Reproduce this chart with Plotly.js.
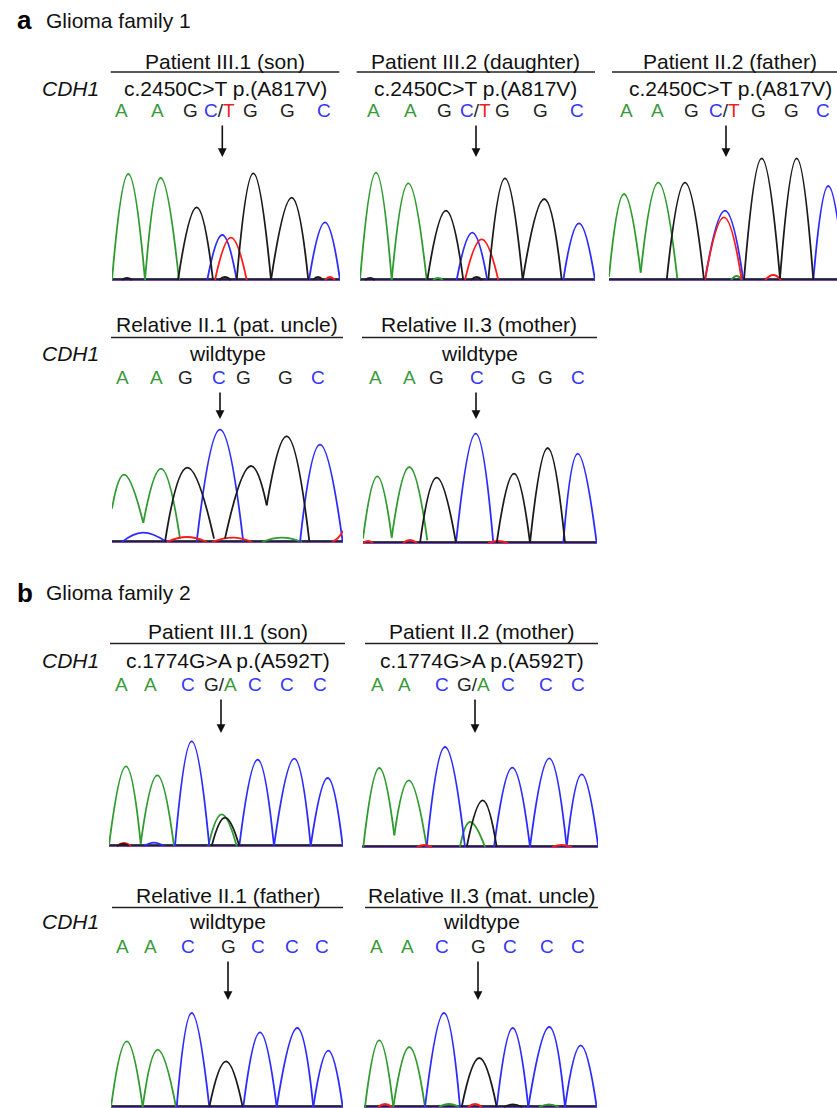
<!DOCTYPE html>
<html><head><meta charset="utf-8">
<script src="https://cdn.plot.ly/plotly-3.0.1.min.js"></script>
<style>html,body{margin:0;padding:0;background:#fff}</style>
</head><body><div id="chart" style="width:837px;height:1108px"></div>
<script>
// ---------- DATA: chromatogram peaks per channel [startX, startY, topX, topY, endX, endY] ----------
// x = scan position within the panel, y = signal intensity
// Family 1
const f1_son_A = [[0,0,16.3,106,33,0],[33,0,48.7,102,67,0]];
const f1_son_C = [[95.3,0,110.3,45,124.7,0],[197,0,213,57.7,228,0]];
const f1_son_G = [[10,0,15,2,20,0],[66,0,84.7,72.7,101,0],[107,0,113,3,119,0],[124.7,0,141.3,106.7,159,0],[159,0,179.7,82.3,196.3,0],[201,0,206,3,211,0]];
const f1_son_T = [[103,0,119,42.3,134.7,0],[213,0,218,3,223,0]];

const f1_daughter_A = [[0,0,16,107.3,31.7,0],[31.7,0,48.3,96.7,66.7,0],[73,0,78,2,83,0]];
const f1_daughter_C = [[96.7,0,112.3,47.3,127.3,0],[203.3,0,219,56.7,235,0]];
const f1_daughter_G = [[5,0,10,2,15,0],[67.3,0,86,69.3,103.3,0],[111,0,116.7,3,122,0],[128.3,0,145,101.7,162.7,0],[162.7,0,184.3,81,201.7,0]];
const f1_daughter_T = [[105,0,121.7,40.7,138.3,0]];

const f1_father_A = [[0,3.3,15,86,31.7,7.3],[31.7,7.3,49.3,97.3,68.3,1.7],[122,0,127.7,4,133,0]];
const f1_father_C = [[96,0,116,69.3,134.3,0],[204.3,0,219.3,94,236,0]];
const f1_father_G = [[57.7,0,76,97.3,95,0],[135,0,152.7,121.7,171,1.7],[171,1.7,187.7,121.7,204.3,0]];
const f1_father_T = [[96,0,115,62.7,132.7,0],[156,0,164.3,5,172,0]];

const f1_uncle_A = [[0,33.4,12,67.4,31.3,19],[31.3,19,49,73.4,68,3.4],[150,0,170,4.4,190,0]];
const f1_uncle_C = [[10,0,30.7,9.4,54.7,0],[84.7,0,108,112.4,131.3,0],[188,0,208,97.4,230.7,0]];
const f1_uncle_G = [[53,0,75.3,74.4,102,3.4],[113,3.4,139,76,154.7,36.7],[154.7,36.7,174.7,105.7,197.3,1]];
const f1_uncle_T = [[55,0,74.7,5,95,0],[100,0,121.3,4.4,140,0],[220,0,226,4,231,11]];

const f1_mother_A = [[0,4.4,14.3,66.7,28.7,5.4],[28.7,5.4,46.3,76,64.3,2.7]];
const f1_mother_C = [[93,0,112.7,109.4,130.3,0],[200.3,0,214.7,89.4,233.7,0]];
const f1_mother_G = [[57,0,73.7,65.4,93,0],[133.7,0,151,69.4,167,0],[167,0,184.7,95,202,0]];
const f1_mother_T = [[0,0,5,2,10,0],[40,0,47,3,54,0],[125,0,135,2,145,0]];

// Family 2
const f2_son_A = [[0,0.7,17,79.7,31.7,2.4],[31.7,2.4,48.3,70.7,65,0],[99.3,0,112.7,31.7,127.7,0]];
const f2_son_C = [[35,0,45,3.4,55,0],[66,0,82.7,104.7,100.3,0],[130.3,0,148.7,86.4,165,0],[165,0,185.3,87.4,201.7,0],[201.7,0,218.7,68,233.7,0]];
const f2_son_G = [[8,0,14,2,20,0],[102.7,0,116,28.4,130.3,0]];
const f2_son_T = [[8,0,15,3,22,0]];

const f2_mother_A = [[1.3,0,17.3,79,32.3,11.7],[32.3,11.7,46.7,66.7,64.7,0],[98,0,108,25,123,0]];
const f2_mother_C = [[64.7,0,83,100,103,0],[132,0,150.3,79.4,168,0],[168,0,187.3,88.7,204.7,0],[204.7,0,219.7,72.7,236.3,0]];
const f2_mother_G = [[104.7,0,120.7,46.7,134.7,0]];
const f2_mother_T = [[55,0,62,2,70,0],[190,0,200,2,210,0]];

const f2_father_A = [[0,0,15.7,65.7,31.7,0],[31.7,0,46.7,57.3,65,0]];
const f2_father_C = [[65.7,0,80.7,94,98.3,0],[132.3,0,149,74.7,165.7,0],[165.7,0,186.3,79,202.3,0],[202.3,0,217.3,56.3,231.7,0]];
const f2_father_G = [[98.3,0,115,45.7,131.7,0]];
const f2_father_T = [];

const f2_uncle_A = [[1,0,15.3,66.7,29.3,0],[29.3,0,45.3,60,61,0],[75,0,85,3,95,0],[175,0,185,2.5,195,0]];
const f2_uncle_C = [[61,0,80,94,96,0],[132.7,0,148.7,79,164.3,0],[164.3,0,185.3,80,201,0],[201,0,216.7,61.7,232.7,0]];
const f2_uncle_G = [[97.7,0,115.3,49,132.7,0],[140,0,149,2.5,158,0]];
const f2_uncle_T = [[14,0,21,3,28,0],[104,0,111,3,118,0]];

// ---------- base calls (letters) and their scan positions ----------
const f1_son_bases = ['A','A','G','C/T','G','G','C'];
const f1_son_basePos = [9,45,78,107,138,175,212];
const f1_daughter_bases = ['A','A','G','C/T','G','G','C'];
const f1_daughter_basePos = [13,50,84,115,142,180,217];
const f1_father_bases = ['A','A','G','C/T','G','G','C'];
const f1_father_basePos = [17,48,82,115,149,182,214];
const f1_uncle_bases = ['A','A','G','C','G','G','C'];
const f1_uncle_basePos = [10,44,73,107,131,173,206];
const f1_mother_bases = ['A','A','G','C','G','G','C'];
const f1_mother_basePos = [12,46,73,114,155,182,215];
const f2_son_bases = ['A','A','C','G/A','C','C','C'];
const f2_son_basePos = [13,41,79,111,146,178,211];
const f2_mother_bases = ['A','A','C','G/A','C','C','C'];
const f2_mother_basePos = [15,42,80,111,146,184,216];
const f2_father_bases = ['A','A','C','G','C','C','C'];
const f2_father_basePos = [11,39,77,117,147,181,211];
const f2_uncle_bases = ['A','A','C','G','C','C','C'];
const f2_uncle_basePos = [12,43,78,114,146,183,214];

// variant position (scan position of the arrowed base)
const f1_son_variantPos = 110.3, f1_daughter_variantPos = 116, f1_father_variantPos = 117;
const f1_uncle_variantPos = 108, f1_mother_variantPos = 113;
const f2_son_variantPos = 112, f2_mother_variantPos = 113, f2_father_variantPos = 117, f2_uncle_variantPos = 114;

// ---------- text ----------
const familyLabels = ['a','b'];
const familyNames = ['Glioma family 1','Glioma family 2'];
const geneName = 'CDH1';
const sampleNames = ['Patient III.1 (son)','Patient III.2 (daughter)','Patient II.2 (father)',
  'Relative II.1 (pat. uncle)','Relative II.3 (mother)',
  'Patient III.1 (son)','Patient II.2 (mother)','Relative II.1 (father)','Relative II.3 (mat. uncle)'];
const sampleVariants = ['c.2450C>T p.(A817V)','c.2450C>T p.(A817V)','c.2450C>T p.(A817V)',
  'wildtype','wildtype','c.1774G>A p.(A592T)','c.1774G>A p.(A592T)','wildtype','wildtype'];

// ---------- assemble ----------
const W = 837, H = 1108;
const COL = {A:'#2f9a2f', C:'#2b2bff', G:'#1a1a1a', T:'#ff1a1a'};
const TXT = {A:'#3a9a3a', C:'#3535f5', G:'#222222', T:'#f01e1e'};
const FONT = 'Liberation Sans, Arial, Helvetica, sans-serif';

const panelData = [
  [f1_son_A,f1_son_C,f1_son_G,f1_son_T,f1_son_bases,f1_son_basePos,f1_son_variantPos],
  [f1_daughter_A,f1_daughter_C,f1_daughter_G,f1_daughter_T,f1_daughter_bases,f1_daughter_basePos,f1_daughter_variantPos],
  [f1_father_A,f1_father_C,f1_father_G,f1_father_T,f1_father_bases,f1_father_basePos,f1_father_variantPos],
  [f1_uncle_A,f1_uncle_C,f1_uncle_G,f1_uncle_T,f1_uncle_bases,f1_uncle_basePos,f1_uncle_variantPos],
  [f1_mother_A,f1_mother_C,f1_mother_G,f1_mother_T,f1_mother_bases,f1_mother_basePos,f1_mother_variantPos],
  [f2_son_A,f2_son_C,f2_son_G,f2_son_T,f2_son_bases,f2_son_basePos,f2_son_variantPos],
  [f2_mother_A,f2_mother_C,f2_mother_G,f2_mother_T,f2_mother_bases,f2_mother_basePos,f2_mother_variantPos],
  [f2_father_A,f2_father_C,f2_father_G,f2_father_T,f2_father_bases,f2_father_basePos,f2_father_variantPos],
  [f2_uncle_A,f2_uncle_C,f2_uncle_G,f2_uncle_T,f2_uncle_bases,f2_uncle_basePos,f2_uncle_variantPos]
];

// layout geometry in pixels
const rows = [
  {header:61, line:72, variant:88.5, bases:111, arrowTop:124, arrowTip:157},
  {header:325, line:337.5, variant:353, bases:378, arrowTop:391, arrowTip:419},
  {header:631, line:643.5, variant:660, bases:684, arrowTop:698, arrowTip:733},
  {header:895, line:907.5, variant:922, bases:946, arrowTop:960, arrowTip:1000}
];
const geom = [
  {row:0, L:112, R:340, B:280, l0:110.7, l1:339.3},
  {row:0, L:360, R:595, B:280, l0:356.7, l1:595},
  {row:0, L:609, R:837, B:280, l0:612, l1:848},
  {row:1, L:112, R:343, B:542, l0:111, l1:343},
  {row:1, L:363, R:597, B:543, l0:362, l1:597},
  {row:2, L:109, R:343, B:846, l0:110, l1:345},
  {row:2, L:362, R:598, B:847, l0:365, l1:598},
  {row:3, L:111, R:343, B:1107, l0:112, l1:343},
  {row:3, L:364, R:597, B:1107, l0:365, l1:598}
];

const px = v => v / W;
const py = v => 1 - v / H;

function peakXY(peaks){
  const x = [], y = [];
  peaks.forEach((p, i) => {
    if (i) { x.push(null); y.push(null); }
    x.push(p[0], p[2], p[4]); y.push(p[1], p[3], p[5]);
  });
  return {x, y};
}

const traces = [];
const layout = {
  width: W, height: H, margin: {l:0, r:0, t:0, b:0},
  paper_bgcolor: '#fff', plot_bgcolor: 'rgba(0,0,0,0)',
  showlegend: false, annotations: [], shapes: [],
  font: {family: FONT, color: '#111'}
};

const baseOffsets = {T:0, A:0.6, C:0.3, G:1.0};

panelData.forEach((pd, k) => {
  const g = geom[k], r = rows[g.row];
  const n = k + 1, sx = n === 1 ? '' : String(n);
  const xa = 'x' + sx, ya = 'y' + sx;
  const right = Math.min(g.R, W);
  const bottomPx = Math.min(g.B + 3, H);
  layout['xaxis' + sx] = {domain:[px(g.L), px(right)], range:[0, right - g.L], visible:false, fixedrange:true};
  layout['yaxis' + sx] = {domain:[py(bottomPx), py(g.B - 130)], range:[-(bottomPx - g.B), 130], visible:false, fixedrange:true};
  const ch = {A: pd[0], C: pd[1], G: pd[2], T: pd[3]};
  ['T','A','C','G'].forEach(c => {
    traces.push({type:'scatter', mode:'lines', x:[0, g.R - g.L + 10], y:[baseOffsets[c], baseOffsets[c]],
      xaxis:xa, yaxis:ya, line:{color:COL[c], width:1.6}, hoverinfo:'skip'});
  });
  ['A','C','T','G'].forEach(c => {
    const d = peakXY(ch[c]);
    traces.push({type:'scatter', mode:'lines', x:d.x, y:d.y, xaxis:xa, yaxis:ya, connectgaps:false,
      line:{color:COL[c], width:1.8, shape:'spline', smoothing:1.3}, hoverinfo:'skip'});
  });
  layout.annotations.push({xref:'paper', yref:'paper', x:px((g.l0 + Math.min(g.l1, 848)) / 2), y:py(r.header),
    text:sampleNames[k], showarrow:false, xanchor:'center', yanchor:'middle', font:{size:21, family:FONT, color:'#111'}});
  layout.shapes.push({type:'line', xref:'paper', yref:'paper', x0:px(g.l0), x1:px(Math.min(g.l1, W)), y0:py(r.line), y1:py(r.line),
    line:{color:'#222', width:1.3}});
  layout.annotations.push({xref:'paper', yref:'paper', x:px((g.l0 + g.l1) / 2), y:py(r.variant),
    text:sampleVariants[k], showarrow:false, xanchor:'center', yanchor:'middle', font:{size:21, family:FONT, color:'#111'}});
  pd[4].forEach((b, i) => {
    let txt;
    if (b.length > 1) {
      const parts = b.split('/');
      txt = '<span style="color:' + TXT[parts[0]] + '">' + parts[0] + '</span>/<span style="color:' + TXT[parts[1]] + '">' + parts[1] + '</span>';
    } else {
      txt = b;
    }
    layout.annotations.push({xref:xa, yref:'paper', x:pd[5][i], y:py(r.bases), text:txt, showarrow:false,
      xanchor:'center', yanchor:'middle', font:{size:19, family:FONT, color: b.length > 1 ? '#222' : TXT[b]}});
  });
  layout.annotations.push({xref:xa, yref:'paper', x:pd[6], y:py(r.arrowTip), ax:0, ay:-(r.arrowTip - r.arrowTop),
    text:'', showarrow:true, arrowhead:2, arrowsize:1.1, arrowwidth:1.6, arrowcolor:'#111'});
});

rows.forEach(r => {
  layout.annotations.push({xref:'paper', yref:'paper', x:px(101), y:py(r.variant), text:'<i>' + geneName + '</i>',
    showarrow:false, xanchor:'right', yanchor:'middle', font:{size:21, family:FONT, color:'#111'}});
});
[20, 593].forEach((yy, i) => {
  layout.annotations.push({xref:'paper', yref:'paper', x:px(15), y:py(yy), text:'<b>' + familyLabels[i] + '</b>',
    showarrow:false, xanchor:'left', yanchor:'middle', font:{size:26, family:FONT, color:'#000'}});
  layout.annotations.push({xref:'paper', yref:'paper', x:px(44), y:py(yy), text:familyNames[i],
    showarrow:false, xanchor:'left', yanchor:'middle', font:{size:21, family:FONT, color:'#111'}});
});

Plotly.newPlot('chart', traces, layout, {staticPlot:true, displayModeBar:false});
</script></body></html>
